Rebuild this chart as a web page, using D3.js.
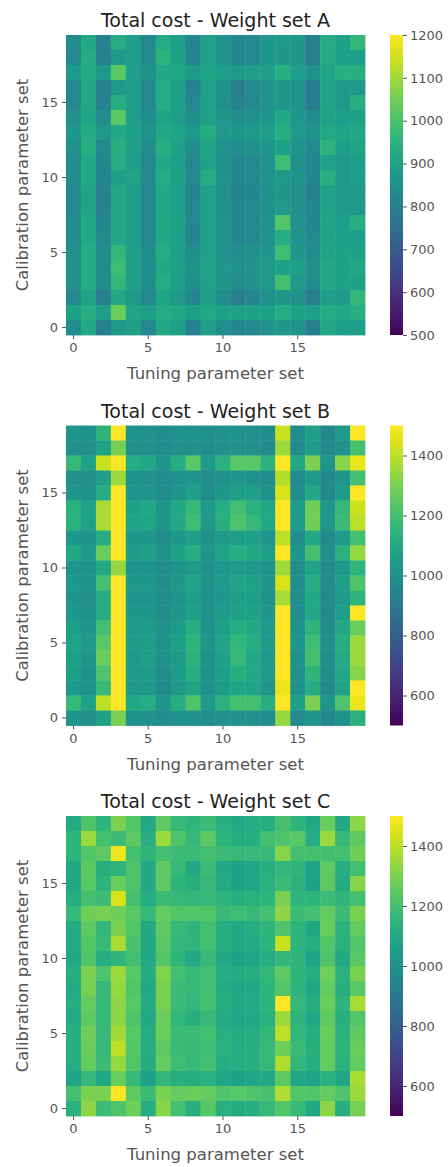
<!DOCTYPE html>
<html><head><meta charset="utf-8">
<script src="https://cdn.jsdelivr.net/npm/d3@7"></script>
<style>
body{margin:0;background:#fff;}
svg{display:block;}
text{font-family:"DejaVu Sans",sans-serif;}
</style>
</head><body>
<svg id="chart" width="448" height="1167"></svg>
<script>
// ---- data ----
const tuningSets = d3.range(20);        // x categories
const calibSets = d3.range(20);         // y categories
const xTickValues = [0, 5, 10, 15];
const yTickValues = [0, 5, 10, 15];
const titles = ["Total cost - Weight set A", "Total cost - Weight set B", "Total cost - Weight set C"];
const colorTicksA = [500, 600, 700, 800, 900, 1000, 1100, 1200];
const colorTicksBC = [600, 800, 1000, 1200, 1400];
const domainA = [500, 1200];
const domainBC = [500, 1500];

// rows listed from calibration set 19 (top) down to 0 (bottom); columns = tuning set 0..19
const costA = [
[840,920,810,930,890,830,930,890,820,900,860,820,830,870,880,870,800,930,900,960],
[830,930,810,880,890,830,950,900,820,900,860,820,830,870,870,870,800,930,890,890],
[880,930,880,1020,890,850,920,920,880,910,890,880,890,890,940,890,860,910,940,940],
[830,920,810,880,890,830,930,890,810,900,850,800,830,860,870,860,790,910,880,880],
[830,920,810,940,890,830,930,890,830,900,850,810,830,860,870,860,790,910,880,940],
[850,910,840,1020,890,840,910,890,840,900,870,840,850,870,920,870,840,900,890,900],
[870,930,880,920,900,860,920,910,880,930,880,870,880,890,940,880,860,920,910,920],
[850,940,830,940,900,840,940,900,840,910,860,840,850,870,900,860,830,950,890,910],
[840,920,820,930,890,830,920,890,830,900,850,820,830,860,980,850,820,900,880,890],
[840,920,820,890,910,830,930,900,830,930,860,820,830,860,880,860,820,940,880,890],
[830,910,810,920,890,830,920,890,820,900,850,810,820,850,870,850,810,900,880,880],
[830,910,810,920,890,830,920,890,830,900,850,820,830,850,880,850,820,900,880,880],
[840,920,820,920,890,830,920,900,830,900,860,820,830,860,1010,860,820,910,890,940],
[840,920,830,920,890,830,920,890,820,900,860,820,830,860,930,860,830,900,890,890],
[850,930,840,960,900,840,930,900,840,900,860,840,850,870,980,870,840,910,900,900],
[850,930,840,980,900,840,920,900,850,910,870,850,860,880,900,890,850,920,900,920],
[850,930,840,960,900,840,930,900,840,900,870,840,850,880,990,880,840,920,900,900],
[830,910,800,920,880,830,910,880,820,890,840,800,820,850,870,850,800,890,880,960],
[900,940,890,1040,910,890,930,920,890,920,900,900,900,900,930,900,890,930,920,940],
[840,920,800,880,900,830,920,890,810,900,840,820,830,860,870,860,800,920,890,890]
];
const costB = [
[1020,1010,1150,1550,1010,1010,990,1010,1010,1000,1010,1010,1000,990,1420,980,1070,970,1040,1550],
[1010,1000,1070,1290,1000,1000,990,1000,1010,990,1000,1010,1000,980,1350,980,1050,970,1010,1200],
[1170,1070,1420,1550,1120,1100,1020,1120,1240,1040,1140,1240,1240,1140,1550,1100,1300,1020,1320,1470],
[1010,1000,1060,1350,1010,1010,990,1010,1020,990,1010,1020,1010,990,1390,980,1050,970,1020,1200],
[1020,1010,1120,1550,1020,1020,990,1020,1070,990,1030,1060,1060,1010,1440,990,1100,970,1050,1550],
[1140,1070,1370,1550,1070,1100,1020,1100,1170,1040,1120,1200,1140,1100,1550,1050,1280,1020,1170,1420],
[1140,1060,1370,1550,1080,1090,1020,1100,1190,1040,1130,1220,1170,1100,1550,1050,1280,1020,1180,1400],
[1030,1010,1120,1550,1030,1030,990,1030,1060,1000,1040,1060,1060,1020,1400,990,1100,980,1050,1200],
[1100,1040,1270,1550,1050,1070,1000,1070,1120,1020,1080,1120,1100,1060,1550,1020,1200,1000,1140,1340],
[1020,1010,1100,1340,1020,1020,990,1020,1050,1000,1030,1050,1040,1010,1350,990,1080,980,1040,1150],
[1030,1010,1200,1550,1030,1030,990,1030,1080,1000,1040,1080,1070,1020,1440,990,1120,980,1060,1220],
[1020,1000,1120,1550,1020,1020,990,1020,1060,1000,1030,1060,1060,1010,1370,990,1100,980,1050,1150],
[1030,1010,1120,1550,1030,1030,990,1030,1070,1000,1040,1070,1070,1020,1550,990,1100,980,1060,1550],
[1060,1020,1200,1550,1040,1050,1000,1050,1120,1010,1060,1120,1100,1040,1550,1010,1150,990,1100,1270],
[1080,1030,1240,1550,1050,1060,1010,1060,1150,1020,1080,1160,1120,1050,1550,1020,1190,1000,1120,1350],
[1070,1020,1270,1550,1040,1060,1000,1050,1140,1010,1070,1170,1100,1040,1550,1010,1200,990,1110,1350],
[1060,1010,1220,1550,1040,1050,990,1050,1120,1010,1060,1130,1100,1040,1550,1000,1150,990,1100,1320],
[1040,1010,1170,1550,1030,1040,980,1040,1090,1000,1050,1090,1080,1020,1470,1000,1120,970,1080,1550],
[1170,1070,1400,1550,1100,1120,1020,1120,1220,1040,1140,1200,1200,1120,1550,1070,1300,1020,1220,1470],
[1020,1000,1070,1300,1010,1010,990,1010,1010,990,1000,1010,1000,990,1340,980,1020,970,1000,1140]
];
const costC = [
[1110,1220,1150,1300,1230,1100,1250,1170,1150,1180,1130,1100,1120,1130,1200,1150,1100,1270,1100,1330],
[1150,1350,1200,1180,1250,1130,1350,1220,1170,1250,1150,1120,1120,1200,1220,1240,1120,1350,1170,1250],
[1150,1230,1250,1480,1200,1150,1200,1180,1180,1200,1180,1170,1170,1170,1320,1200,1200,1200,1200,1280],
[1100,1250,1130,1150,1220,1100,1250,1170,1100,1180,1100,1070,1090,1130,1160,1150,1080,1250,1120,1200],
[1100,1240,1150,1270,1220,1100,1250,1150,1130,1170,1110,1070,1090,1140,1180,1140,1070,1250,1110,1320],
[1120,1200,1180,1440,1200,1120,1180,1170,1160,1170,1150,1130,1140,1150,1300,1150,1150,1180,1150,1200],
[1170,1280,1290,1280,1240,1170,1260,1230,1230,1230,1170,1190,1170,1200,1330,1180,1200,1260,1180,1300],
[1110,1250,1160,1300,1230,1100,1250,1170,1150,1200,1120,1100,1120,1150,1220,1150,1100,1270,1140,1260],
[1110,1230,1170,1370,1210,1100,1240,1160,1150,1200,1120,1100,1110,1150,1420,1150,1120,1230,1140,1230],
[1100,1230,1120,1150,1200,1100,1230,1150,1100,1170,1100,1070,1090,1120,1160,1150,1080,1220,1100,1240],
[1120,1300,1220,1350,1240,1110,1310,1200,1170,1200,1120,1110,1120,1160,1250,1150,1120,1280,1140,1300],
[1110,1290,1170,1340,1230,1100,1300,1180,1170,1200,1110,1090,1100,1150,1230,1150,1100,1260,1130,1240],
[1120,1260,1170,1330,1240,1110,1290,1180,1160,1200,1120,1100,1110,1150,1500,1170,1120,1270,1150,1370],
[1110,1250,1170,1330,1220,1100,1270,1160,1130,1170,1110,1090,1100,1140,1350,1150,1100,1250,1130,1230],
[1120,1280,1170,1360,1240,1120,1270,1180,1180,1200,1130,1110,1120,1160,1400,1160,1120,1270,1140,1250],
[1130,1270,1170,1400,1230,1120,1250,1180,1170,1190,1140,1120,1130,1170,1280,1180,1130,1260,1150,1270],
[1120,1260,1180,1340,1230,1110,1260,1190,1170,1200,1120,1120,1130,1170,1380,1160,1120,1260,1140,1260],
[1080,1170,1100,1270,1170,1070,1160,1130,1120,1130,1090,1070,1090,1100,1250,1090,1080,1140,1090,1370],
[1200,1300,1300,1500,1250,1180,1300,1260,1270,1260,1220,1240,1220,1210,1380,1230,1230,1260,1220,1350],
[1140,1330,1180,1220,1280,1120,1320,1200,1130,1240,1130,1110,1130,1170,1230,1170,1100,1330,1130,1290]
];

// ---- drawing ----
const svg = d3.select("#chart");
const panels = [
  {title: titles[0], data: costA, domain: domainA, ticks: colorTicksA, top: 35},
  {title: titles[1], data: costB, domain: domainBC, ticks: colorTicksBC, top: 425.5},
  {title: titles[2], data: costC, domain: domainBC, ticks: colorTicksBC, top: 816}
];
const left = 66, W = 299, H = 300;
const cbX = 390, cbW = 13;
const grey = "#555";

panels.forEach((p, pi) => {
  const g = svg.append("g");
  const x = d3.scaleBand().domain(tuningSets).range([left, left + W]);
  const rowsTopDown = calibSets.slice().reverse();
  const y = d3.scaleBand().domain(rowsTopDown).range([p.top, p.top + H]);
  const color = d3.scaleSequential(d3.interpolateViridis).domain(p.domain).clamp(true);

  const cells = [];
  p.data.forEach((row, k) => row.forEach((v, c) => cells.push({row: rowsTopDown[k], col: tuningSets[c], v})));
  g.selectAll("rect.cell").data(cells).enter().append("rect")
    .attr("class", "cell")
    .attr("x", d => x(d.col)).attr("y", d => y(d.row))
    .attr("width", x.bandwidth() + 0.4).attr("height", y.bandwidth() + 0.4)
    .attr("fill", d => color(d.v));

  // axes
  const xAxis = g.append("g").attr("transform", `translate(0,${p.top + H})`)
    .call(d3.axisBottom(x).tickValues(xTickValues).tickSize(4).tickPadding(4));
  const yAxis = g.append("g").attr("transform", `translate(${left},0)`)
    .call(d3.axisLeft(y).tickValues(yTickValues).tickSize(4).tickPadding(4));
  [xAxis, yAxis].forEach(a => {
    a.select(".domain").remove();
    a.selectAll(".tick line").attr("stroke", grey).attr("stroke-width", 1);
    a.selectAll(".tick text").attr("fill", grey).style("font-size", "13px").style("font-family", '"DejaVu Sans",sans-serif');
  });

  // title
  g.append("text").attr("x", left + W / 2).attr("y", p.top - 8)
    .attr("text-anchor", "middle").attr("fill", "#222").style("font-size", "19px").text(p.title);
  // axis labels
  g.append("text").attr("x", left + W / 2).attr("y", p.top + H + 44)
    .attr("text-anchor", "middle").attr("fill", grey).style("font-size", "16.5px").text("Tuning parameter set");
  g.append("text").attr("transform", `translate(28,${p.top + H / 2}) rotate(-90)`)
    .attr("text-anchor", "middle").attr("fill", grey).style("font-size", "16.5px").text("Calibration parameter set");

  // colorbar
  const gradId = "grad" + pi;
  const grad = svg.append("defs").append("linearGradient").attr("id", gradId)
    .attr("x1", "0").attr("y1", "1").attr("x2", "0").attr("y2", "0");
  d3.range(0, 1.0001, 0.05).forEach(t => {
    grad.append("stop").attr("offset", t).attr("stop-color", d3.interpolateViridis(t));
  });
  g.append("rect").attr("x", cbX).attr("y", p.top).attr("width", cbW).attr("height", H)
    .attr("fill", `url(#${gradId})`);
  const cbScale = d3.scaleLinear().domain(p.domain).range([p.top + H, p.top]);
  const cbAxis = g.append("g").attr("transform", `translate(${cbX + cbW},0)`)
    .call(d3.axisRight(cbScale).tickValues(p.ticks).tickFormat(d3.format("d")).tickSize(4).tickPadding(3));
  cbAxis.select(".domain").remove();
  cbAxis.selectAll(".tick line").attr("stroke", grey);
  cbAxis.selectAll(".tick text").attr("fill", grey).style("font-size", "13px").style("font-family", '"DejaVu Sans",sans-serif');
});
</script>
</body></html>
